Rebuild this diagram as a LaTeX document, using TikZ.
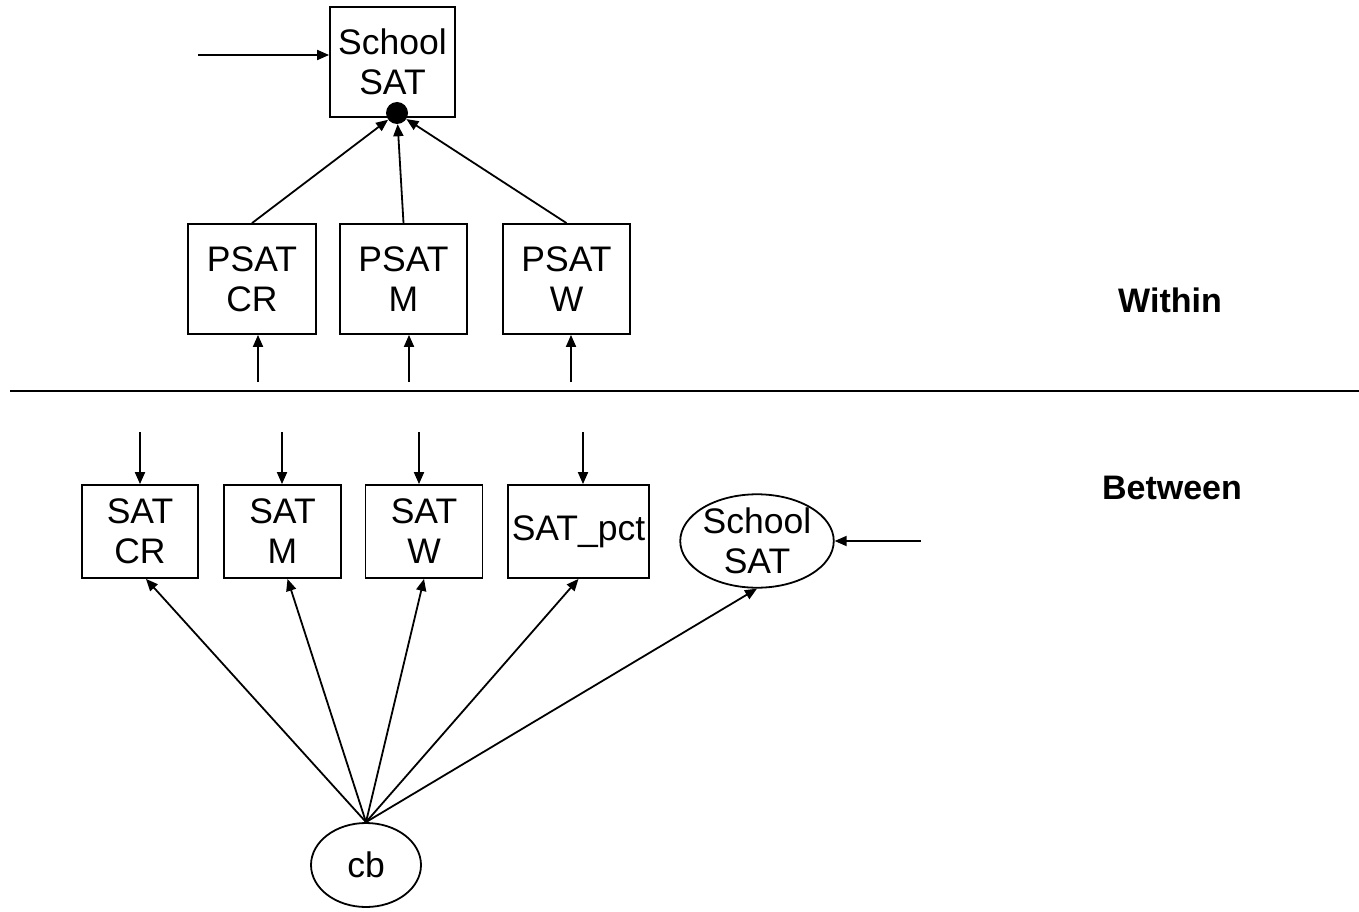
\documentclass[tikz,border=0pt]{standalone}
\usepackage{fontspec}
\setmainfont{Liberation Sans}
\usetikzlibrary{arrows.meta,shapes.geometric}
\begin{document}
\begin{tikzpicture}[x=1pt,y=-1pt,
  every node/.style={font=\fontsize{35.5}{40}\selectfont, align=center, inner sep=0pt},
  box/.style={draw, line width=1.8pt, rectangle},
  oval/.style={draw, line width=1.8pt, ellipse},
  arr/.style={line width=1.8pt, -{Triangle[length=12pt,width=10pt]}},
  lbl/.style={font=\fontsize{34}{40}\selectfont\bfseries}]
\useasboundingbox (0,0) rectangle (1359,912);
% Within
\node[box, minimum width=125pt, minimum height=110pt] (top) at (392.5,62) {School\\SAT};
\node[circle, fill=black, minimum size=22pt] (dot) at (397,113) {};
\coordinate (topin) at (198,55);
\draw[arr] (topin) -- (top.west |- topin);
\node[box, minimum width=128pt, minimum height=110pt] (pcr) at (252,279) {PSAT\\CR};
\node[box, minimum width=127pt, minimum height=110pt] (pm) at (403.5,279) {PSAT\\M};
\node[box, minimum width=127pt, minimum height=110pt] (pw) at (566.5,279) {PSAT\\W};
\draw[arr] (pcr.north) -- (dot);
\draw[arr] (pm.north) -- (dot);
\draw[arr] (pw.north) -- (dot);
\coordinate (ecr) at (258,382);
\coordinate (em) at (409,382);
\coordinate (ew) at (571,382);
\draw[arr] (ecr) -- (ecr |- pcr.south);
\draw[arr] (em) -- (em |- pm.south);
\draw[arr] (ew) -- (ew |- pw.south);
% divider
\coordinate (l1) at (10,391);
\coordinate (l2) at (1359,391);
\draw[line width=1.4pt] (l1) -- (l2);
\node[lbl] (within) at (1170,300) {Within};
\node[lbl] (between) at (1172,488) {Between};
% Between
\node[box, minimum width=116pt, minimum height=93pt] (scr) at (140,531.5) {SAT\\CR};
\node[box, minimum width=117pt, minimum height=93pt] (sm) at (282.5,531.5) {SAT\\M};
\node[box, minimum width=117pt, minimum height=93pt] (sw) at (424,531.5) {SAT\\W};
\node[box, minimum width=141pt, minimum height=93pt] (sp) at (578.5,531.5) {SAT\_pct};
\node[oval, minimum width=130pt, minimum height=82pt] (ss) at (757,541) {School\\SAT};
\foreach \n/\x in {scr/140, sm/282, sw/419, sp/583}{
  \coordinate (r\n) at (\x,432);
  \draw[arr] (r\n) -- (r\n |- \n.north);
}
\coordinate (ssin) at (921,541);
\draw[arr] (ssin) -- (ss.east);
\node[oval, minimum width=110pt, minimum height=84pt] (cb) at (366,865) {cb};
\draw[arr] (cb.north) -- ([xshift=6pt]scr.south);
\draw[arr] (cb.north) -- ([xshift=5pt]sm.south);
\draw[arr] (cb.north) -- (sw.south);
\draw[arr] (cb.north) -- (sp.south);
\draw[arr] (cb.north) -- (ss.south);
\end{tikzpicture}
\end{document}
